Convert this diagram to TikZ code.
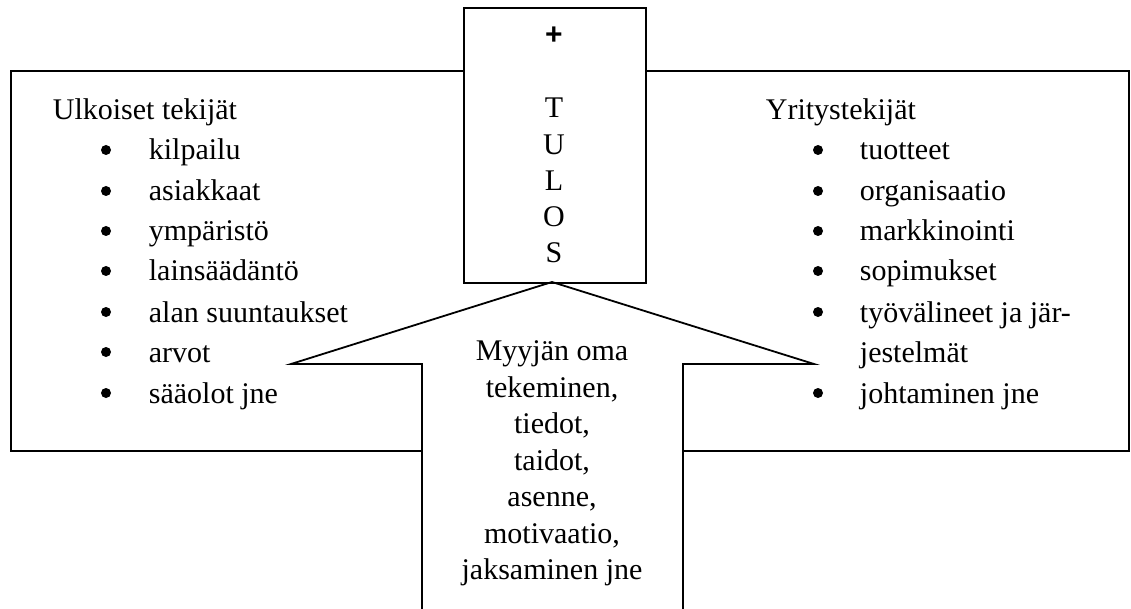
\documentclass[tikz,border=0pt]{standalone}
\usepackage{fontspec}
\setmainfont{Liberation Serif}
\newfontfamily\plusfont{Liberation Sans}
\begin{document}
\begin{tikzpicture}[x=1pt,y=-1pt,line width=1.8pt,
  every node/.style={inner sep=0pt,font=\fontsize{30}{36}\selectfont},
  itemtext/.style={anchor=base west},
  dot/.style={circle,fill=black,draw=none,minimum size=10pt,inner sep=0pt},
  letter/.style={anchor=base},
  outline/.style={draw=black,line width=1.8pt,line join=miter}]
\useasboundingbox (0,0) rectangle (1131,609);
\fill[white] (0,0) rectangle (1131,609);

% frame corners
\coordinate (lbt) at (11,71);
\coordinate (lbb) at (11,451);
\coordinate (lbe) at (422,451);
\coordinate (rbt) at (1129,71);
\coordinate (rbb) at (1129,451);
\coordinate (rbe) at (683,451);
% center box
\node[draw,outline,minimum width=182pt,minimum height=275pt,anchor=north west] (box) at (463,7) {};
% left and right frames
\draw[outline] (box.west |- lbt) -- (lbt) -- (lbb) -- (lbe);
\draw[outline] (box.east |- rbt) -- (rbt) -- (rbb) -- (rbe);
% arrow
\coordinate (tip) at (552,282);
\coordinate (aLw) at (291,364);
\coordinate (aRw) at (814,364);
\coordinate (aLs) at (422,364);
\coordinate (aRs) at (683,364);
\coordinate (aLb) at (422,609);
\coordinate (aRb) at (683,609);
\draw[outline] (aLb) -- (aLs) -- (aLw) -- (tip) -- (aRw) -- (aRs) -- (aRb);

% center text
\node[font=\plusfont\bfseries\fontsize{30}{36}\selectfont] (plus) at (554,36) {+};
\node[letter] (t1) at (554,118) {T};
\node[letter] (t2) at (554,155) {U};
\node[letter] (t3) at (554,191) {L};
\node[letter] (t4) at (554,227) {O};
\node[letter] (t5) at (554,263) {S};

% left list
\node[itemtext] (lh) at (52,120) {Ulkoiset tekijät};
\node[itemtext] (l1) at (148,160) {kilpailu};
\node[itemtext] (l2) at (148,201) {asiakkaat};
\node[itemtext] (l3) at (148,241) {ympäristö};
\node[itemtext] (l4) at (148,281) {lainsäädäntö};
\node[itemtext] (l5) at (148,322) {alan suuntaukset};
\node[itemtext] (l6) at (148,362) {arvot};
\node[itemtext] (l7) at (148,403) {sääolot jne};
\node[dot] (ld1) at (106,150) {};
\node[dot] (ld2) at (106,191) {};
\node[dot] (ld3) at (106,231) {};
\node[dot] (ld4) at (106,271) {};
\node[dot] (ld5) at (106,312) {};
\node[dot] (ld6) at (106,352) {};
\node[dot] (ld7) at (106,393) {};

% right list
\node[itemtext] (rh) at (765,120) {Yritystekijät};
\node[itemtext] (r1) at (859,160) {tuotteet};
\node[itemtext] (r2) at (859,201) {organisaatio};
\node[itemtext] (r3) at (859,241) {markkinointi};
\node[itemtext] (r4) at (859,281) {sopimukset};
\node[itemtext] (r5) at (859,322) {työvälineet ja jär-};
\node[itemtext] (r5b) at (859,362) {jestelmät};
\node[itemtext] (r6) at (859,403) {johtaminen jne};
\node[dot] (rd1) at (818,150) {};
\node[dot] (rd2) at (818,191) {};
\node[dot] (rd3) at (818,231) {};
\node[dot] (rd4) at (818,271) {};
\node[dot] (rd5) at (818,312) {};
\node[dot] (rd6) at (818,393) {};

% arrow text
\node[letter] (m1) at (552,360) {Myyjän oma};
\node[letter] (m2) at (552,397) {tekeminen,};
\node[letter] (m3) at (552,433) {tiedot,};
\node[letter] (m4) at (552,470) {taidot,};
\node[letter] (m5) at (552,506) {asenne,};
\node[letter] (m6) at (552,543) {motivaatio,};
\node[letter] (m7) at (552,579) {jaksaminen jne};
\end{tikzpicture}
\end{document}
